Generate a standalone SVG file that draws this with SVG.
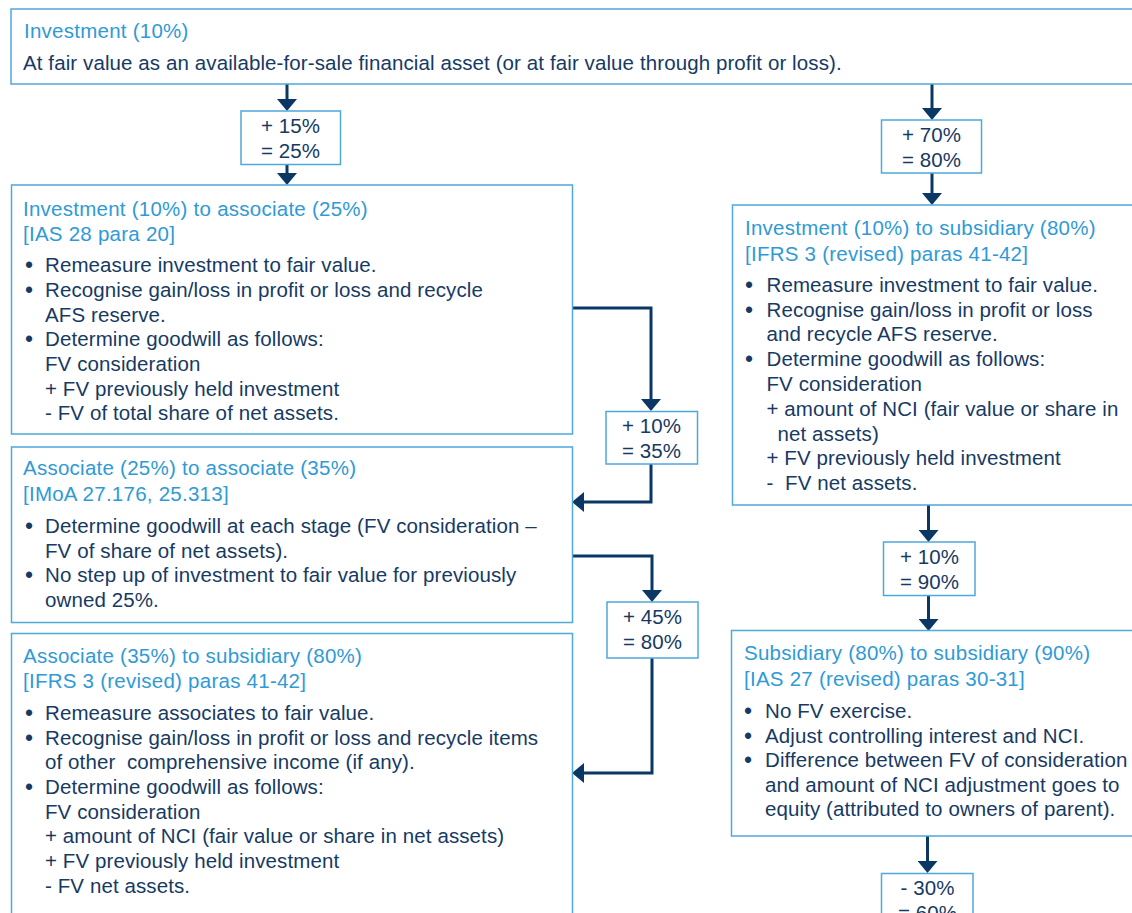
<svg xmlns="http://www.w3.org/2000/svg" width="1132" height="913" viewBox="0 0 1132 913">
<style>
.box{fill:#ffffff;stroke:#4ea8dc;stroke-width:1.5}
.t{font-family:"Liberation Sans",Arial,Helvetica,sans-serif;font-size:20.5px;letter-spacing:0.1px}
.ti{fill:#2f9ad6;letter-spacing:0.25px}
.bd{fill:#163a63}
.c{text-anchor:middle}
.b{font-size:23px}
.conn{stroke:#0b3765;stroke-width:3;fill:none}
</style>
<defs>
<marker id="ah" markerUnits="userSpaceOnUse" viewBox="0 0 12 20" markerWidth="12" markerHeight="20" refX="6" refY="10" orient="auto">
<path d="M0,0 L12,10 L0,20 z" fill="#0b3765"/>
</marker>
</defs>
<rect width="1132" height="913" fill="#ffffff"/>

<g id="connectors">
<path class="conn" d="M287,84 V105" marker-end="url(#ah)"/>
<path class="conn" d="M287,165 V179" marker-end="url(#ah)"/>
<path class="conn" d="M932,84 V114" marker-end="url(#ah)"/>
<path class="conn" d="M932,173 V199" marker-end="url(#ah)"/>
<path class="conn" d="M572,308 H651 V405" marker-end="url(#ah)"/>
<path class="conn" d="M651,464 V502 H578" marker-end="url(#ah)"/>
<path class="conn" d="M572,556 H652 V596" marker-end="url(#ah)"/>
<path class="conn" d="M652,658 V773 H578" marker-end="url(#ah)"/>
<path class="conn" d="M928.5,505 V536" marker-end="url(#ah)"/>
<path class="conn" d="M928.5,595 V625" marker-end="url(#ah)"/>
<path class="conn" d="M927.5,836 V867" marker-end="url(#ah)"/>
</g>

<g id="investment">
<rect class="box" x="11" y="9" width="1140" height="75"/>
<text class="t ti" x="24" y="38">Investment (10%)</text>
<text class="t bd" x="23" y="70">At fair value as an available-for-sale financial asset (or at fair value through profit or loss).</text>
</g>

<g id="step-15">
<rect class="box" x="241" y="111" width="99.5" height="53.5"/>
<text class="t bd c" x="290.5" y="133">+ 15%</text>
<text class="t bd c" x="290.5" y="158">= 25%</text>
</g>

<g id="inv-to-assoc">
<rect class="box" x="11.5" y="185" width="561" height="249"/>
<text class="t ti" x="23" y="216">Investment (10%) to associate (25%)</text>
<text class="t ti" x="23" y="241">[IAS 28 para 20]</text>
<text class="t bd c b" x="29" y="273">•</text>
<text class="t bd" x="45" y="272">Remeasure investment to fair value.</text>
<text class="t bd c b" x="29" y="298">•</text>
<text class="t bd" x="45" y="297">Recognise gain/loss in profit or loss and recycle</text>
<text class="t bd" x="45" y="321.5">AFS reserve.</text>
<text class="t bd c b" x="29" y="347">•</text>
<text class="t bd" x="45" y="346">Determine goodwill as follows:</text>
<text class="t bd" x="45" y="371">FV consideration</text>
<text class="t bd" x="45" y="395.5">+ FV previously held investment</text>
<text class="t bd" x="45" y="420">- FV of total share of net assets.</text>
</g>

<g id="step-10a">
<rect class="box" x="606" y="411.5" width="91.5" height="52.5"/>
<text class="t bd c" x="651.5" y="432.5">+ 10%</text>
<text class="t bd c" x="651.5" y="457.5">= 35%</text>
</g>

<g id="assoc-to-assoc">
<rect class="box" x="11.5" y="447" width="561" height="175.5"/>
<text class="t ti" x="23" y="475">Associate (25%) to associate (35%)</text>
<text class="t ti" x="23" y="501">[IMoA 27.176, 25.313]</text>
<text class="t bd c b" x="29" y="534">•</text>
<text class="t bd" x="45" y="533">Determine goodwill at each stage (FV consideration –</text>
<text class="t bd" x="45" y="557.5">FV of share of net assets).</text>
<text class="t bd c b" x="29" y="583">•</text>
<text class="t bd" x="45" y="582">No step up of investment to fair value for previously</text>
<text class="t bd" x="45" y="606.5">owned 25%.</text>
</g>

<g id="step-45">
<rect class="box" x="607" y="602" width="91" height="56"/>
<text class="t bd c" x="652.5" y="623.5">+ 45%</text>
<text class="t bd c" x="652.5" y="648.5">= 80%</text>
</g>

<g id="assoc-to-sub">
<rect class="box" x="11.5" y="633.5" width="561" height="300"/>
<text class="t ti" x="23" y="663">Associate (35%) to subsidiary (80%)</text>
<text class="t ti" x="23" y="688">[IFRS 3 (revised) paras 41-42]</text>
<text class="t bd c b" x="29" y="721">•</text>
<text class="t bd" x="45" y="720">Remeasure associates to fair value.</text>
<text class="t bd c b" x="29" y="746">•</text>
<text class="t bd" x="45" y="745">Recognise gain/loss in profit or loss and recycle items</text>
<text class="t bd" x="45" y="769" xml:space="preserve">of other  comprehensive income (if any).</text>
<text class="t bd c b" x="29" y="795">•</text>
<text class="t bd" x="45" y="794">Determine goodwill as follows:</text>
<text class="t bd" x="45" y="819">FV consideration</text>
<text class="t bd" x="45" y="843">+ amount of NCI (fair value or share in net assets)</text>
<text class="t bd" x="45" y="868">+ FV previously held investment</text>
<text class="t bd" x="45" y="893">- FV net assets.</text>
</g>

<g id="step-70">
<rect class="box" x="881.5" y="120" width="100" height="53"/>
<text class="t bd c" x="931.5" y="141.5">+ 70%</text>
<text class="t bd c" x="931.5" y="166.5">= 80%</text>
</g>

<g id="inv-to-sub">
<rect class="box" x="732.5" y="205" width="420" height="300"/>
<text class="t ti" x="745" y="235">Investment (10%) to subsidiary (80%)</text>
<text class="t ti" x="745" y="261">[IFRS 3 (revised) paras 41-42]</text>
<text class="t bd c b" x="749" y="293">•</text>
<text class="t bd" x="766.5" y="292">Remeasure investment to fair value.</text>
<text class="t bd c b" x="749" y="317.5">•</text>
<text class="t bd" x="766.5" y="316.5">Recognise gain/loss in profit or loss</text>
<text class="t bd" x="766.5" y="341">and recycle AFS reserve.</text>
<text class="t bd c b" x="749" y="367">•</text>
<text class="t bd" x="766.5" y="366">Determine goodwill as follows:</text>
<text class="t bd" x="766.5" y="391">FV consideration</text>
<text class="t bd" x="766.5" y="416">+ amount of NCI (fair value or share in</text>
<text class="t bd" x="777.5" y="440.5">net assets)</text>
<text class="t bd" x="766.5" y="465">+ FV previously held investment</text>
<text class="t bd" x="766.5" y="490" xml:space="preserve">-  FV net assets.</text>
</g>

<g id="step-10b">
<rect class="box" x="883.5" y="542" width="91.5" height="53.5"/>
<text class="t bd c" x="929.5" y="563.5">+ 10%</text>
<text class="t bd c" x="929.5" y="589">= 90%</text>
</g>

<g id="sub-to-sub">
<rect class="box" x="731.5" y="630.5" width="420" height="205.5"/>
<text class="t ti" x="744" y="660">Subsidiary (80%) to subsidiary (90%)</text>
<text class="t ti" x="744" y="686">[IAS 27 (revised) paras 30-31]</text>
<text class="t bd c b" x="748" y="719">•</text>
<text class="t bd" x="765" y="718">No FV exercise.</text>
<text class="t bd c b" x="748" y="743.5">•</text>
<text class="t bd" x="765" y="742.5">Adjust controlling interest and NCI.</text>
<text class="t bd c b" x="748" y="768">•</text>
<text class="t bd" x="765" y="767">Difference between FV of consideration</text>
<text class="t bd" x="765" y="791.5">and amount of NCI adjustment goes to</text>
<text class="t bd" x="765" y="816">equity (attributed to owners of parent).</text>
</g>

<g id="step-30">
<rect class="box" x="881.5" y="873.5" width="91.5" height="60"/>
<text class="t bd c" x="927.5" y="895">- 30%</text>
<text class="t bd c" x="927.5" y="920">= 60%</text>
</g>
</svg>
